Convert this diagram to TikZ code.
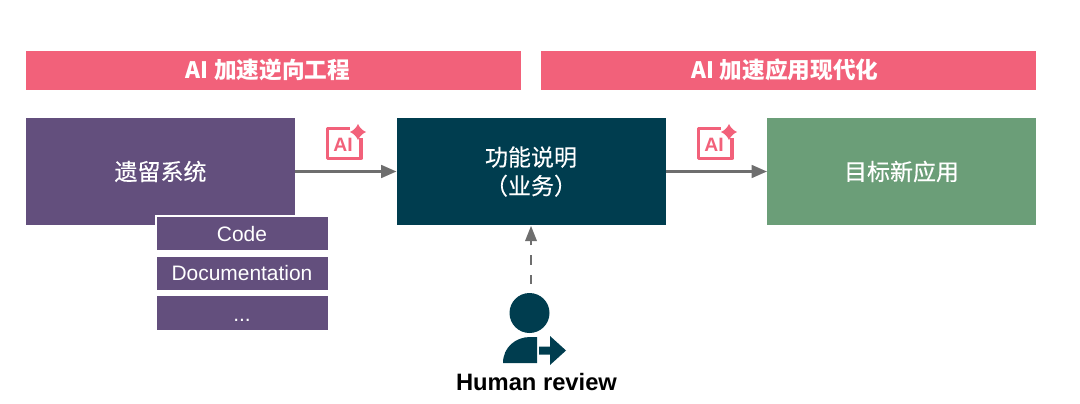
\documentclass[tikz,border=0pt]{standalone}
\usepackage{fontspec}
\setmainfont{Liberation Sans}
\newfontfamily\cjk{Noto Sans CJK SC}
\newfontfamily\cjkm[FakeBold=0.3]{Noto Sans CJK SC}
\usetikzlibrary{arrows.meta}
\definecolor{pinkc}{HTML}{F2617A}
\definecolor{purplec}{HTML}{634F7D}
\definecolor{tealc}{HTML}{003D4F}
\definecolor{greenc}{HTML}{6B9E78}
\definecolor{grayc}{HTML}{6E6E6E}
\tikzset{
  box/.style={minimum width=#1*0.75pt,inner sep=0pt,outer sep=0pt,align=center,text=white},
  banner/.style={box=495,minimum height=29.25pt,fill=pinkc},
  bannertext/.style={inner sep=0pt,text=white,font=\cjk\bfseries\fontsize{17}{20}\selectfont},
  mainbox/.style={box=269,minimum height=80.25pt,font=\cjkm\fontsize{17.25}{21.5}\selectfont},
  subbox/.style={box=173,minimum height=26.5pt,fill=purplec,draw=white,line width=1.5pt,font=\fontsize{15.7}{17}\selectfont},
  flow/.style={draw=grayc,line width=1.9pt,-{Triangle[length=11.5pt,width=9.5pt]}},
  person/.style={fill=tealc,draw=none},
  icon/.style={draw=pinkc,line width=2.3pt,line join=round},
  iconmark/.style={fill=pinkc,draw=none},
  icontext/.style={text=pinkc,inner sep=0pt,font=\bfseries\fontsize{14.5}{15}\selectfont},
  caption/.style={inner sep=0pt,font=\bfseries\fontsize{17.8}{20}\selectfont}
}
\newcommand{\aiicon}[3]{%
  \begin{scope}[shift={(#1,#2)}]
    \draw[icon] (24,1.5) -- (1.5,1.5) -- (1.5,31.5) -- (35,31.5) -- (35,11);
    \node[icontext] (#3) at (17,18) {AI};
    \fill[iconmark] (32,-3) .. controls (33,0) and (37,4) .. (40,5) .. controls (37,6) and (33,10) .. (32,13) .. controls (31,10) and (27,6) .. (24,5) .. controls (27,4) and (31,0) .. (32,-3) -- cycle;
  \end{scope}}
\begin{document}
\begin{tikzpicture}[x=0.75pt,y=-0.75pt]
\useasboundingbox (0,0) rectangle (1080,403);
\node[banner] (b1) at (273.5,70.5) {};
\node[banner] (b2) at (788.5,70.5) {};
\node[bannertext] (t1) at (268,70) {AI 加速逆向工程};
\node[bannertext] (t2) at (785,70) {AI 加速应用现代化};
\node[mainbox,fill=purplec] (legacy) at (160.5,171.5) {遗留系统};
\node[mainbox,fill=tealc] (spec) at (531,171.5) {功能说明\\（业务）};
\node[mainbox,fill=greenc] (target) at (901.5,171.5) {目标新应用};
\node[subbox] (code) at (242,233.5) {\raisebox{-5.7pt}[0pt][0pt]{Code}};
\node[subbox] (docs) at (242,273.5) {Documentation};
\node[subbox] (more) at (242,313) {\raisebox{-6pt}[0pt][0pt]{...}};
\draw[flow] (legacy.east) -- (spec.west);
\draw[flow] (spec.east) -- (target.west);
\aiicon{326}{127}{ai1}
\aiicon{697}{127}{ai2}
\coordinate (rv) at (531,284);
\draw[grayc,line width=2.1pt,dash pattern=on 7pt off 7.5pt] (rv) -- (531,240);
\fill[grayc] (spec.south) ++(0,1) -- ++(-6,15) -- ++(12,0) -- cycle;
\fill[person] (529.5,313) circle[radius=20];
\fill[person] (503,363) .. controls (503,347) and (516,337) .. (530,337) -- (537,337) -- (537,363) -- cycle;
\fill[person] (539,346.5) -- (550,346.5) -- (550,336) -- (566,350.5) -- (550,365) -- (550,354.5) -- (539,354.5) -- cycle;
\node[caption] (hr) at (536.5,382) {Human review};
\end{tikzpicture}
\end{document}
